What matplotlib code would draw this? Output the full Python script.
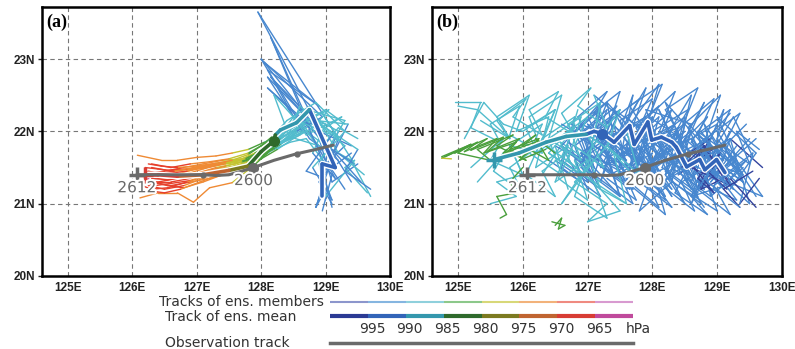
import matplotlib
matplotlib.use("Agg")
import matplotlib.pyplot as plt
import matplotlib.patheffects as pe
from matplotlib.collections import LineCollection
import numpy as np

# pressure classes (hPa), weakest -> strongest
LEVELS = [995, 990, 985, 980, 975, 970, 965]
MEMBER_COLORS = ["#34449e", "#4787cf", "#52bccd", "#4a9f3c",
                 "#c4c430", "#ef8a34", "#e6402c", "#d05cb4"]
MEAN_COLORS = ["#2b3a94", "#3264b8", "#3497ad", "#2f6a2c",
               "#7c7a20", "#c06430", "#d83c34", "#c04a9c"]
LEGEND_MEMBER_COLORS = ["#8c96cc", "#85b5e0", "#8fd0dc", "#8cc88a",
                        "#d8d878", "#f2b27a", "#ef8a80", "#d89ad0"]
OBS_COLOR = "#6a6a6a"

lon_ticks = [125, 126, 127, 128, 129, 130]
lat_ticks = [20, 21, 22, 23]

# observed track (same in both panels), east -> west
obs_lon = [129.12, 128.85, 128.55, 128.2, 127.88, 127.7, 127.5, 127.3, 127.1, 126.6, 126.07]
obs_lat = [21.81, 21.75, 21.69, 21.6, 21.5, 21.45, 21.4, 21.39, 21.4, 21.4, 21.4]
obs_small_dots = [2, 8]
obs_big_dot = 4
obs_end = 10

# (a) ensemble members: (lon, lat, pressure)
members_a = [
    [(129.3, 21.2, 992), (129.0, 21.6, 991), (129.2, 22.0, 989), (128.8, 22.2, 988), (128.5, 22.0, 987),
     (128.3, 21.9, 984), (128.1, 21.8, 982), (127.9, 21.7, 979), (127.7, 21.62, 976), (127.4, 21.6, 974),
     (127.1, 21.55, 971), (126.8, 21.5, 969), (126.5, 21.45, 967), (126.25, 21.42, 966)],
    [(129.5, 21.55, 991), (129.1, 21.3, 990), (128.9, 21.9, 989), (128.6, 22.3, 988), (128.4, 22.0, 987),
     (128.2, 21.85, 983), (128.0, 21.75, 981), (127.8, 21.6, 978), (127.6, 21.55, 975), (127.3, 21.5, 973),
     (127.0, 21.42, 970), (126.7, 21.38, 968), (126.4, 21.35, 967), (126.2, 21.38, 966)],
    [(129.0, 21.4, 992), (129.2, 21.9, 991), (127.95, 23.65, 991), (128.8, 22.2, 989), (128.5, 21.95, 987),
     (128.25, 21.8, 984), (128.0, 21.7, 981), (127.8, 21.55, 978), (127.5, 21.5, 974), (127.2, 21.45, 972),
     (126.9, 21.35, 969), (126.6, 21.3, 968), (126.35, 21.3, 967), (126.2, 21.35, 966)],
    [(129.4, 21.8, 992), (128.9, 22.0, 991), (128.05, 22.95, 991), (128.9, 22.35, 990), (128.1, 22.85, 990),
     (128.6, 22.05, 988), (128.3, 21.85, 985), (128.05, 21.7, 981), (127.8, 21.5, 978), (127.5, 21.42, 974),
     (127.2, 21.35, 972), (126.9, 21.3, 969), (126.6, 21.25, 968), (126.3, 21.3, 966)],
    [(129.1, 20.95, 992), (128.95, 21.5, 991), (129.3, 21.8, 989), (128.7, 22.25, 991), (128.15, 22.75, 990),
     (128.8, 22.1, 988), (128.4, 21.9, 986), (128.15, 21.75, 983), (127.9, 21.6, 979), (127.6, 21.52, 975),
     (127.3, 21.48, 973), (127.0, 21.4, 970), (126.7, 21.35, 968), (126.4, 21.3, 967), (126.2, 21.32, 966)],
    [(129.7, 21.1, 989), (129.4, 21.6, 988), (129.0, 21.8, 988), (128.7, 22.0, 987), (128.4, 21.9, 986),
     (128.1, 21.7, 982), (127.85, 21.5, 979), (127.55, 21.29, 974), (127.2, 21.22, 972), (126.95, 21.02, 971),
     (126.7, 21.15, 971), (126.4, 21.15, 970), (126.12, 21.08, 969)],
    [(129.3, 22.1, 989), (129.0, 22.3, 988), (128.6, 22.1, 987), (128.3, 21.95, 985), (128.05, 21.85, 982),
     (127.8, 21.75, 979), (127.55, 21.7, 974), (127.3, 21.66, 973), (127.0, 21.64, 972), (126.7, 21.6, 971),
     (126.45, 21.6, 971), (126.08, 21.67, 970)],
    [(129.0, 21.2, 991), (128.85, 20.95, 990), (129.05, 21.5, 989), (128.7, 21.9, 988), (128.45, 21.85, 987),
     (128.2, 21.75, 983), (127.95, 21.65, 980), (127.7, 21.55, 976), (127.4, 21.45, 973), (127.1, 21.35, 971),
     (126.8, 21.25, 969), (126.5, 21.2, 967), (126.25, 21.25, 966)],
    [(129.6, 21.4, 989), (129.2, 21.7, 988), (128.75, 22.35, 988), (128.6, 21.95, 987), (128.35, 21.85, 985),
     (128.1, 21.7, 982), (127.85, 21.62, 979), (127.55, 21.58, 975), (127.25, 21.52, 972), (126.95, 21.48, 970),
     (126.65, 21.45, 968), (126.4, 21.48, 967), (126.2, 21.5, 966)],
    [(129.1, 21.0, 992), (128.9, 21.3, 991), (129.35, 22.1, 989), (128.85, 22.15, 988), (128.55, 22.05, 987),
     (128.3, 21.9, 984), (128.1, 21.8, 982), (127.9, 21.68, 979), (127.65, 21.6, 975), (127.35, 21.55, 973),
     (127.05, 21.5, 971), (126.75, 21.42, 969), (126.5, 21.4, 967), (126.25, 21.45, 966)],
    [(129.2, 21.6, 992), (128.75, 21.9, 991), (128.0, 23.0, 991), (128.95, 22.2, 990), (128.55, 22.0, 987),
     (128.3, 21.82, 984), (128.05, 21.68, 981), (127.8, 21.58, 978), (127.5, 21.5, 974), (127.2, 21.42, 972),
     (126.9, 21.32, 969), (126.6, 21.28, 968), (126.35, 21.25, 967), (126.2, 21.3, 966)],
    [(128.95, 20.9, 991), (129.1, 21.4, 990), (128.8, 21.7, 989), (129.0, 22.1, 988), (128.6, 22.2, 987),
     (128.35, 22.0, 986), (128.15, 21.82, 983), (127.95, 21.7, 980), (127.7, 21.6, 976), (127.4, 21.55, 974),
     (127.1, 21.48, 971), (126.8, 21.4, 969), (126.5, 21.38, 967), (126.3, 21.42, 966)],
    [(129.4, 21.3, 992), (129.05, 21.8, 991), (128.1, 22.6, 991), (128.8, 22.05, 989), (128.5, 21.9, 987),
     (128.25, 21.75, 984), (128.0, 21.62, 981), (127.75, 21.52, 978), (127.45, 21.45, 974), (127.15, 21.38, 972),
     (126.85, 21.3, 969), (126.55, 21.22, 968), (126.3, 21.2, 967), (126.15, 21.25, 966)],
    [(129.5, 21.9, 989), (129.2, 22.05, 988), (128.9, 21.75, 988), (128.65, 22.1, 987), (128.4, 21.92, 986),
     (128.2, 21.78, 983), (127.95, 21.6, 979), (127.7, 21.5, 976), (127.4, 21.4, 973), (127.1, 21.3, 971),
     (126.8, 21.22, 968), (126.55, 21.25, 966), (126.3, 21.3, 964), (126.2, 21.4, 963)],
    [(129.0, 21.5, 992), (128.15, 23.3, 991), (128.7, 22.2, 990), (128.1, 22.75, 990), (128.65, 22.0, 988),
     (128.4, 21.88, 986), (128.2, 21.78, 983), (127.95, 21.65, 980), (127.7, 21.58, 976), (127.45, 21.55, 974),
     (127.15, 21.5, 972), (126.85, 21.45, 969), (126.55, 21.42, 968), (126.3, 21.4, 966)],
    [(129.65, 21.15, 989), (129.3, 21.5, 988), (129.45, 21.6, 988), (129.0, 21.1, 988), (128.9, 21.55, 987),
     (129.3, 22.15, 987), (128.7, 22.3, 987), (128.4, 22.05, 986), (128.2, 21.9, 984), (128.0, 21.8, 981),
     (127.8, 21.7, 978), (127.5, 21.62, 974), (127.2, 21.58, 972), (126.9, 21.55, 969), (126.6, 21.5, 968),
     (126.3, 21.55, 966)],
    [(129.55, 21.3, 991), (129.1, 21.75, 990), (129.45, 21.55, 989), (128.95, 22.25, 989), (129.2, 21.9, 988),
     (128.6, 22.35, 987), (128.45, 22.0, 986), (128.25, 21.85, 984), (128.05, 21.75, 982), (127.85, 21.65, 979),
     (127.6, 21.6, 975), (127.3, 21.56, 973), (127.0, 21.52, 970), (126.7, 21.5, 968), (126.45, 21.52, 967),
     (126.25, 21.55, 966)],
    [(128.85, 20.95, 992), (129.0, 21.35, 991), (128.7, 21.45, 990), (129.1, 21.95, 989), (128.55, 22.15, 988),
     (128.9, 21.8, 987), (128.35, 21.95, 986), (128.15, 21.8, 983), (127.95, 21.68, 980), (127.7, 21.58, 976),
     (127.45, 21.52, 974), (127.15, 21.45, 972), (126.85, 21.38, 969), (126.55, 21.33, 967), (126.3, 21.35, 966)],
    [(129.7, 21.2, 991), (129.3, 21.45, 990), (129.5, 21.75, 989), (129.0, 22.05, 988), (129.25, 22.2, 988),
     (128.7, 21.95, 987), (128.5, 22.2, 986), (128.3, 21.95, 985), (128.1, 21.75, 982), (127.9, 21.6, 979),
     (127.65, 21.5, 975), (127.35, 21.4, 973), (127.05, 21.3, 971), (126.75, 21.2, 969), (126.5, 21.15, 968),
     (126.25, 21.18, 967)],
    [(129.0, 21.05, 992), (128.9, 21.6, 991), (129.15, 21.35, 990), (128.75, 22.0, 989), (129.05, 22.3, 988),
     (128.6, 22.1, 987), (128.2, 22.5, 986), (128.45, 21.9, 985), (128.2, 21.82, 983), (128.0, 21.72, 980),
     (127.75, 21.62, 977), (127.45, 21.57, 974), (127.15, 21.52, 971), (126.85, 21.48, 969), (126.55, 21.46, 967),
     (126.3, 21.5, 966)],
    [(129.4, 21.7, 991), (128.95, 21.4, 990), (129.1, 21.05, 990), (128.8, 21.5, 989), (129.3, 22.0, 988),
     (128.85, 22.4, 987), (128.4, 22.15, 986), (128.2, 21.95, 984), (128.0, 21.8, 981), (127.8, 21.68, 978),
     (127.55, 21.6, 974), (127.25, 21.55, 972), (126.95, 21.5, 970), (126.65, 21.45, 968), (126.4, 21.42, 966),
     (126.2, 21.45, 964)],
]

# (a) ensemble mean
mean_a = [(128.95, 21.1, 993), (128.95, 21.55, 992), (129.15, 21.5, 992), (129.0, 21.8, 991),
          (128.75, 22.3, 989), (128.55, 22.12, 988), (128.3, 22.02, 986), (128.22, 21.95, 984),
          (128.2, 21.87, 983), (128.0, 21.72, 981), (127.8, 21.52, 978), (127.5, 21.46, 974),
          (127.1, 21.4, 972), (126.7, 21.38, 969), (126.4, 21.4, 967), (126.2, 21.4, 966)]
mean_a_dot = 8

# (b) ensemble members
members_b = [
    list(zip([129.6, 129.1, 129.4, 128.8, 129.0, 128.5, 128.7, 128.1, 128.4, 127.8, 128.0, 127.5, 127.7, 127.2, 127.4, 126.9, 127.1, 126.6],
             [21.1, 21.8, 21.3, 22.1, 21.5, 21.9, 21.2, 22.3, 21.7, 21.4, 22.2, 21.6, 22.5, 21.3, 21.9, 22.1, 21.5, 21.8],
             [994, 994, 994, 993, 993, 993, 993, 992, 992, 992, 992, 991, 991, 991, 991, 990, 990, 989])),
    list(zip([129.3, 129.7, 128.9, 129.2, 128.6, 128.9, 128.2, 128.6, 127.9, 128.1, 127.6, 127.9, 127.3, 127.5, 127.0, 127.2, 126.7, 126.9, 126.4],
             [21.6, 21.1, 21.4, 22.0, 21.0, 21.7, 22.4, 21.5, 21.9, 21.2, 21.8, 22.6, 21.7, 21.1, 21.6, 22.3, 21.9, 21.4, 21.7],
             [994, 994, 994, 994, 993, 993, 993, 993, 992, 992, 992, 992, 991, 991, 991, 990, 990, 989, 988])),
    list(zip([129.2, 128.8, 129.1, 128.7, 129.0, 128.4, 128.6, 128.0, 128.3, 127.7, 128.0, 127.4, 127.6, 127.1, 127.3, 126.8],
             [21.3, 21.7, 21.5, 21.2, 21.8, 21.4, 22.0, 21.6, 21.1, 21.9, 21.4, 22.1, 21.5, 21.8, 22.3, 21.9],
             [997, 997, 996, 996, 995, 994, 994, 993, 993, 992, 992, 991, 991, 991, 990, 990])),
    list(zip([129.5, 129.0, 129.3, 128.7, 128.9, 128.3, 128.5, 127.9, 128.2, 127.6, 127.8, 127.3, 127.5, 126.9, 127.2, 126.6, 126.8, 126.3],
             [21.9, 21.4, 21.6, 22.0, 21.1, 21.5, 22.2, 21.8, 20.85, 21.3, 21.9, 22.4, 21.5, 21.7, 21.2, 21.6, 22.1, 21.4],
             [994, 994, 994, 993, 993, 993, 993, 992, 992, 992, 992, 991, 991, 991, 990, 990, 989, 989])),
    list(zip([129.0, 129.4, 128.8, 129.1, 128.5, 128.8, 128.2, 128.4, 127.8, 128.1, 127.5, 127.7, 127.1, 127.4, 126.8, 127.0, 126.5],
             [22.0, 21.4, 21.6, 21.2, 21.8, 22.4, 21.4, 22.0, 21.7, 22.65, 21.9, 21.2, 21.6, 22.2, 21.8, 21.3, 21.6],
             [994, 994, 993, 993, 993, 993, 992, 992, 992, 992, 991, 991, 991, 991, 990, 990, 989])),
    list(zip([129.7, 129.2, 129.5, 128.9, 129.1, 128.6, 128.8, 128.2, 128.5, 127.9, 128.1, 127.6, 127.8, 127.2, 127.4, 126.9, 127.1, 126.5, 126.7],
             [21.5, 21.9, 21.0, 21.5, 22.3, 21.3, 21.9, 21.4, 21.0, 22.0, 21.6, 21.3, 22.1, 21.9, 21.4, 22.0, 21.5, 21.8, 21.2],
             [995, 994, 994, 994, 993, 993, 993, 993, 992, 992, 992, 992, 991, 991, 991, 990, 990, 989, 989])),
    list(zip([129.2, 129.6, 129.0, 129.3, 128.7, 128.9, 128.4, 128.6, 128.0, 128.3, 127.7, 127.9, 127.3, 127.6, 127.0, 127.3, 126.8, 127.0, 126.5],
             [21.2, 21.7, 22.2, 21.6, 21.3, 21.9, 21.7, 22.5, 21.6, 21.2, 21.7, 22.2, 21.9, 21.4, 21.7, 22.4, 22.0, 21.6, 21.9],
             [994, 994, 994, 993, 993, 993, 993, 992, 992, 992, 992, 991, 991, 991, 991, 990, 990, 989, 989])),
    list(zip([128.9, 129.3, 128.6, 128.9, 128.3, 128.6, 127.9, 128.2, 127.6, 127.9, 127.2, 127.5, 126.9, 127.2, 126.6, 126.8, 126.3],
             [21.6, 21.3, 21.1, 21.8, 21.4, 22.1, 22.3, 21.6, 21.2, 21.8, 21.5, 22.0, 21.6, 21.1, 21.5, 22.2, 21.9],
             [994, 994, 993, 993, 993, 993, 992, 992, 992, 992, 991, 991, 991, 990, 990, 989, 989])),
    list(zip([129.4, 128.9, 129.2, 128.6, 128.8, 128.2, 128.5, 127.9, 128.1, 127.6, 127.8, 127.2, 127.5, 126.9, 127.1, 126.6],
             [21.5, 21.1, 21.9, 21.6, 21.2, 21.8, 22.0, 21.5, 22.2, 21.8, 21.3, 21.7, 22.3, 21.9, 21.4, 21.8],
             [994, 994, 993, 993, 993, 993, 992, 992, 992, 992, 991, 991, 991, 990, 990, 989])),
    list(zip([129.6, 129.1, 129.4, 128.8, 129.0, 128.4, 128.7, 128.1, 128.3, 127.8, 128.0, 127.4, 127.7, 127.1, 127.3, 126.8, 127.0],
             [21.9, 21.5, 21.3, 21.7, 22.1, 21.8, 21.5, 21.9, 21.3, 20.9, 21.4, 21.6, 21.0, 21.4, 21.9, 21.6, 21.2],
             [994, 994, 994, 993, 993, 993, 993, 992, 992, 992, 992, 991, 991, 991, 990, 990, 990])),
    list(zip([129.1, 128.6, 129.0, 128.3, 128.5, 127.9, 128.2, 127.6, 127.8, 127.2, 127.5, 126.9, 127.2, 126.6, 126.9, 126.4],
             [21.4, 21.9, 20.9, 21.3, 22.1, 21.5, 21.7, 22.2, 21.4, 21.9, 21.1, 21.5, 22.4, 21.8, 21.3, 21.6],
             [994, 994, 993, 993, 993, 993, 992, 992, 992, 991, 991, 991, 991, 990, 990, 989])),
    list(zip([129.3, 128.9, 129.2, 128.7, 129.0, 128.4, 128.6, 128.1, 128.3, 127.7, 128.0, 127.3, 127.6, 127.0, 127.3, 126.7],
             [21.8, 21.3, 21.6, 21.95, 21.4, 21.6, 21.2, 21.9, 22.3, 21.8, 21.4, 21.9, 21.6, 22.1, 21.7, 22.0],
             [994, 994, 994, 993, 993, 993, 993, 992, 992, 992, 991, 991, 991, 990, 990, 989])),
    list(zip([129.0, 128.75, 129.1, 128.8, 129.2, 128.6, 128.9, 128.4],
             [21.6, 21.2, 21.35, 21.8, 21.25, 21.5, 21.9, 21.6],
             [997, 997, 996, 996, 996, 995, 995, 994])),
    list(zip([129.55, 129.25, 128.95, 129.35, 128.7, 128.95, 128.35, 128.65, 128.0, 128.35, 127.75, 128.05, 127.45, 127.8, 127.15, 127.4],
             [21.65, 22.2, 21.75, 21.45, 21.95, 22.45, 22.0, 21.35, 21.75, 22.55, 22.05, 21.45, 21.85, 22.45, 22.0, 21.55],
             [994, 994, 994, 993, 993, 993, 993, 992, 992, 992, 992, 991, 991, 991, 990, 990])),
    list(zip([129.45, 129.0, 129.25, 128.75, 128.95, 128.45, 128.7, 128.15, 128.4, 127.85, 128.1, 127.55, 127.8, 127.3, 127.5, 127.0, 127.25, 126.75],
             [22.1, 21.7, 21.2, 21.6, 22.0, 21.55, 21.15, 21.5, 22.05, 21.85, 22.35, 21.95, 21.55, 22.0, 22.55, 22.2, 21.8, 22.1],
             [994, 994, 993, 993, 993, 993, 992, 992, 992, 992, 991, 991, 991, 991, 990, 990, 990, 989])),
    list(zip([129.65, 129.35, 129.55, 129.05, 129.3, 128.8, 129.0, 128.5, 128.75, 128.25, 128.45, 127.95, 128.2, 127.7, 127.95, 127.45, 127.65],
             [21.35, 21.0, 21.7, 21.35, 21.05, 21.25, 21.75, 21.45, 21.0, 21.35, 21.85, 21.55, 21.1, 21.5, 21.95, 21.65, 21.25],
             [995, 994, 994, 994, 994, 993, 993, 993, 993, 992, 992, 992, 992, 991, 991, 991, 990])),
    list(zip([129.2, 128.8, 129.05, 128.55, 128.8, 128.3, 128.55, 128.0, 128.25, 127.75, 128.0, 127.5, 127.75, 127.2, 127.45, 126.95, 127.15, 126.7, 126.85],
             [22.25, 21.85, 22.5, 22.05, 21.6, 21.9, 22.3, 22.0, 21.55, 21.95, 22.45, 22.15, 21.7, 21.95, 22.35, 22.0, 21.6, 21.85, 22.3],
             [994, 994, 994, 993, 993, 993, 993, 992, 992, 992, 992, 991, 991, 991, 991, 990, 990, 989, 989])),
    list(zip([129.55, 129.1, 129.35, 128.85, 129.1, 128.6, 128.85, 128.35, 128.55, 128.05, 128.3, 127.8, 128.0, 127.55, 127.75, 127.3],
             [21.45, 21.2, 20.95, 21.3, 21.65, 21.1, 20.85, 21.15, 21.5, 21.25, 20.95, 21.3, 21.7, 21.45, 21.05, 21.35],
             [995, 995, 994, 994, 994, 994, 993, 993, 993, 993, 992, 992, 992, 991, 991, 991])),
    list(zip([129.15, 128.85, 129.05, 128.7, 128.95, 128.6, 128.8, 128.45],
             [21.2, 21.45, 21.7, 21.35, 21.15, 21.55, 21.8, 21.5],
             [998, 998, 997, 997, 996, 996, 995, 995])),
    list(zip([129.65, 129.3, 129.5, 129.1, 129.35, 128.9, 129.1, 128.6, 128.85, 128.35, 128.6, 128.1, 128.35, 127.85, 128.1, 127.6, 127.85, 127.35, 127.6, 127.1],
             [21.75, 22.0, 21.55, 21.8, 22.25, 21.95, 21.6, 21.85, 22.2, 21.75, 21.4, 21.7, 22.1, 21.85, 21.45, 21.7, 22.0, 21.65, 21.3, 21.6],
             [994, 994, 994, 994, 993, 993, 993, 993, 993, 992, 992, 992, 992, 992, 991, 991, 991, 991, 990, 990])),
    list(zip([128.8, 128.5, 128.7, 128.2, 128.45, 127.95, 128.2, 127.7, 127.9, 127.4, 127.65, 127.15, 127.35, 126.9, 127.1, 126.6, 126.8, 126.35],
             [20.95, 21.35, 21.1, 21.45, 21.85, 21.5, 21.05, 21.4, 21.9, 21.6, 21.2, 21.55, 22.0, 21.7, 21.3, 21.65, 22.05, 21.75],
             [993, 993, 993, 992, 992, 992, 992, 991, 991, 991, 991, 990, 990, 990, 989, 989, 989, 988])),
    list(zip([129.3, 129.0, 129.2, 128.75, 129.0, 128.5, 128.7, 128.2, 128.45, 127.95, 128.15, 127.65, 127.9, 127.4, 127.6, 127.1, 127.3, 126.85, 127.05, 126.6],
             [21.55, 21.9, 22.3, 22.0, 21.7, 22.15, 22.6, 22.3, 21.9, 22.2, 22.65, 22.35, 22.0, 22.3, 21.95, 22.25, 22.55, 22.2, 21.85, 22.1],
             [994, 994, 994, 994, 993, 993, 993, 993, 993, 992, 992, 992, 992, 991, 991, 991, 991, 990, 990, 989])),
    list(zip([129.6, 129.2, 129.45, 128.95, 129.2, 128.7, 128.95, 128.45, 128.65, 128.15, 128.4, 127.9, 128.1, 127.65, 127.85, 127.35],
             [20.95, 21.35, 21.6, 21.25, 20.85, 21.2, 21.55, 21.3, 20.9, 21.25, 21.6, 21.35, 20.95, 21.3, 21.65, 21.4],
             [995, 994, 994, 994, 994, 993, 993, 993, 993, 992, 992, 992, 992, 991, 991, 991])),
    # cyan and green members further west
    list(zip([128.0, 127.6, 127.8, 127.3, 127.5, 127.0, 127.2, 126.7, 126.9, 126.4, 126.6, 126.1, 126.3, 125.8, 126.0, 125.5, 125.7, 125.2],
             [21.6, 22.0, 21.4, 21.8, 22.3, 21.7, 21.2, 21.6, 22.2, 21.9, 21.4, 21.7, 22.1, 21.8, 21.4, 21.6, 21.9, 21.5],
             [990, 989, 989, 989, 989, 988, 988, 988, 988, 988, 987, 987, 987, 987, 986, 986, 986, 986])),
    list(zip([127.8, 127.4, 127.6, 127.1, 127.3, 126.8, 127.0, 126.5, 126.7, 126.2, 126.4, 125.9, 126.1, 125.6, 125.8, 125.3, 125.0],
             [21.3, 21.7, 21.0, 21.3, 20.8, 21.1, 21.6, 21.3, 21.8, 21.5, 22.2, 22.0, 22.5, 22.2, 21.9, 22.3, 22.35],
             [989, 989, 989, 989, 988, 988, 988, 988, 988, 987, 987, 987, 987, 987, 986, 986, 986])),
    list(zip([127.4, 127.0, 127.2, 126.7, 126.9, 126.4, 126.6, 126.1, 126.3, 125.8, 126.0, 125.6, 125.9, 125.5],
             [21.9, 21.5, 22.4, 22.1, 21.6, 21.9, 22.5, 22.2, 21.7, 21.8, 21.4, 21.3, 21.1, 21.0],
             [989, 989, 989, 988, 988, 988, 988, 987, 987, 987, 987, 986, 986, 986])),
    list(zip([127.6, 127.2, 127.5, 127.0, 127.3, 126.8, 127.1, 126.6, 126.9, 126.4, 126.7, 126.2, 126.5, 126.0, 125.7, 125.4, 125.1],
             [21.0, 21.2, 20.9, 20.75, 21.0, 21.3, 21.6, 21.0, 21.4, 21.7, 22.0, 21.7, 22.3, 22.0, 22.1, 22.4, 21.9],
             [989, 989, 989, 989, 988, 988, 988, 988, 988, 987, 987, 987, 987, 987, 986, 986, 986])),
    list(zip([127.5, 127.1, 127.3, 126.85, 127.05, 126.6, 126.8, 126.35, 126.55, 126.1, 126.3, 125.85, 126.05, 125.6, 125.8, 125.35],
             [22.2, 22.5, 22.05, 22.35, 22.6, 22.25, 21.95, 22.2, 22.55, 22.3, 21.95, 22.2, 22.45, 22.15, 21.9, 22.15],
             [990, 989, 989, 989, 989, 988, 988, 988, 988, 988, 987, 987, 987, 987, 986, 986])),
    list(zip([127.2, 126.8, 127.0, 126.55, 126.75, 126.3, 126.5, 126.05, 126.25, 125.8, 126.0, 125.55, 125.75, 125.3],
             [21.3, 21.6, 21.05, 21.35, 21.75, 21.45, 21.1, 21.4, 21.8, 21.5, 21.15, 21.45, 21.75, 21.3],
             [989, 989, 989, 988, 988, 988, 988, 987, 987, 987, 987, 986, 986, 986])),
    list(zip([127.4, 127.0, 127.25, 126.8, 127.0, 126.55, 126.75, 126.3, 126.5, 126.05, 126.2, 125.8, 125.95, 125.5, 125.65, 125.2, 125.35, 124.95],
             [21.7, 21.95, 21.5, 21.8, 22.2, 21.9, 21.55, 21.85, 22.3, 22.05, 21.75, 21.95, 22.35, 22.1, 21.85, 22.05, 22.4, 22.4],
             [989, 989, 989, 989, 988, 988, 988, 988, 988, 987, 987, 987, 987, 987, 986, 986, 986, 986])),
    list(zip([126.5, 126.2, 126.4, 126.0, 126.2, 125.7, 125.9, 125.4, 125.6, 125.1, 125.3, 124.75, 124.9],
             [21.7, 21.9, 21.6, 21.8, 21.95, 21.65, 21.85, 21.7, 21.9, 21.72, 21.85, 21.63, 21.62],
             [984, 984, 984, 984, 983, 983, 983, 982, 982, 982, 981, 979, 979])),
    list(zip([126.3, 126.0, 126.25, 125.8, 126.05, 125.6, 125.85, 125.3, 125.5, 125.0, 125.2, 124.8],
             [21.85, 21.65, 21.9, 21.75, 21.6, 21.8, 21.95, 21.75, 21.6, 21.7, 21.82, 21.65],
             [984, 984, 984, 984, 983, 983, 983, 982, 982, 981, 981, 981])),
    list(zip([126.35, 125.95, 126.2, 125.7, 125.95, 125.45, 125.7, 125.2, 125.45, 124.95, 125.2, 124.75],
             [21.75, 21.6, 21.85, 21.7, 21.9, 21.72, 21.92, 21.74, 21.9, 21.7, 21.82, 21.65],
             [984, 984, 984, 983, 983, 983, 983, 982, 982, 982, 981, 981])),
    list(zip([126.0, 125.8, 125.9, 125.6, 125.75, 125.65],
             [21.5, 21.3, 21.15, 21.1, 20.85, 20.8],
             [984, 984, 983, 983, 982, 982])),
    list(zip([126.45, 126.65, 126.55, 126.6, 126.5],
             [20.75, 20.7, 20.65, 20.8, 20.7],
             [983, 983, 983, 983, 983])),
]

# (b) ensemble mean
mean_b = [(129.12, 21.43, 994), (128.99, 21.61, 994), (128.81, 21.47, 994), (128.73, 21.61, 993),
          (128.53, 21.51, 993), (128.37, 21.78, 993), (128.3, 21.85, 992), (128.14, 21.92, 992),
          (127.99, 21.88, 992), (127.93, 22.13, 992), (127.72, 21.82, 991), (127.65, 22.08, 991),
          (127.41, 21.85, 991), (127.23, 21.97, 991), (127.1, 22.0, 990), (126.98, 21.96, 989),
          (126.67, 21.93, 989), (126.36, 21.85, 988), (125.94, 21.7, 988), (125.56, 21.61, 987)]
mean_b_dot = 13


def color_index(p):
    for i, lev in enumerate(LEVELS):
        if p >= lev:
            return i
    return len(LEVELS)


def draw_track(ax, track, colors, lw, z):
    pts = np.array(track, dtype=float)
    segs = [pts[i:i + 2, :2] for i in range(len(pts) - 1)]
    cols = [colors[color_index(p)] for p in pts[:-1, 2]]
    lc = LineCollection(segs, colors=cols, linewidths=lw, zorder=z,
                        capstyle="round", joinstyle="round")
    ax.add_collection(lc)
    return pts


def setup_axes(ax, label):
    ax.set_xlim(124.6, 130)
    ax.set_ylim(20, 23.72)
    ax.set_xticks(lon_ticks)
    ax.set_xticklabels([f"{v}E" for v in lon_ticks])
    ax.set_yticks(lat_ticks)
    ax.set_yticklabels([f"{v}N" for v in lat_ticks])
    for lbl in ax.get_xticklabels() + ax.get_yticklabels():
        lbl.set_fontweight("bold")
        lbl.set_fontsize(8.5)
        lbl.set_family("Liberation Sans")
    ax.tick_params(axis="y", length=3, width=1, pad=2, colors="#222222")
    ax.tick_params(axis="x", length=0, pad=4, colors="#222222")
    ax.grid(True, color="#777777", linestyle=(0, (4, 3)), linewidth=0.8)
    ax.set_axisbelow(True)
    for sp in ax.spines.values():
        sp.set_linewidth(1.8)
    ax.text(0.012, 0.975, label, transform=ax.transAxes, ha="left", va="top",
            fontsize=13, fontweight="bold", family="Liberation Serif", zorder=10)


def draw_obs(ax):
    halo = [pe.withStroke(linewidth=3, foreground="white")]
    ax.plot(obs_lon, obs_lat, color=OBS_COLOR, lw=2.2, zorder=6, solid_capstyle="round")
    ax.plot([obs_lon[i] for i in obs_small_dots], [obs_lat[i] for i in obs_small_dots],
            "o", color=OBS_COLOR, ms=3.5, zorder=7)
    ax.plot(obs_lon[obs_big_dot], obs_lat[obs_big_dot], "o", color=OBS_COLOR, ms=7, zorder=7)
    ax.plot(obs_lon[obs_end], obs_lat[obs_end], "+", color=OBS_COLOR, ms=11, mew=2.5, zorder=7)
    ax.text(obs_lon[obs_big_dot], obs_lat[obs_big_dot] - 0.18, "2600", color=OBS_COLOR,
            fontsize=11, ha="center", va="center", zorder=8, path_effects=halo)
    ax.text(obs_lon[obs_end], obs_lat[obs_end] - 0.18, "2612", color=OBS_COLOR,
            fontsize=11, ha="center", va="center", zorder=8, path_effects=halo)


def draw_mean(ax, track, dot_idx):
    pts = np.array(track, dtype=float)
    ax.plot(pts[:, 0], pts[:, 1], color="white", lw=4.6, zorder=4,
            solid_joinstyle="round", solid_capstyle="round")
    draw_track(ax, track, MEAN_COLORS, 2.6, 5)
    c_dot = MEAN_COLORS[color_index(pts[dot_idx, 2])]
    c_end = MEAN_COLORS[color_index(pts[-2, 2])]
    ax.plot(pts[dot_idx, 0], pts[dot_idx, 1], "o", color=c_dot, ms=7, zorder=6)
    ax.plot(pts[-1, 0], pts[-1, 1], "+", color=c_end, ms=11, mew=2.5, zorder=6)


fig = plt.figure(figsize=(7.95, 3.49), dpi=100)
ax_a = fig.add_axes([42 / 795, 73 / 349, 348 / 795, 269 / 349])
ax_b = fig.add_axes([432 / 795, 73 / 349, 350 / 795, 269 / 349])

setup_axes(ax_a, "(a)")
setup_axes(ax_b, "(b)")

for trk in members_a:
    draw_track(ax_a, trk, MEMBER_COLORS, 1.0, 2)
draw_mean(ax_a, mean_a, mean_a_dot)
draw_obs(ax_a)

for trk in members_b:
    draw_track(ax_b, trk, MEMBER_COLORS, 1.0, 2)
draw_mean(ax_b, mean_b, mean_b_dot)
draw_obs(ax_b)

# legend strip below the maps (pixel coordinates)
leg = fig.add_axes([0, 0, 1, 1])
leg.set_xlim(0, 795)
leg.set_ylim(349, 0)
leg.axis("off")
x0, x1 = 330, 633
edges = np.linspace(x0, x1, len(MEMBER_COLORS) + 1)
txt_kw = dict(fontsize=10, color="#333333", va="center")
leg.text(324, 302, "Tracks of ens. members", ha="right", **txt_kw)
leg.text(165, 317, "Track of ens. mean", ha="left", **txt_kw)
leg.text(165, 343, "Observation track", ha="left", **txt_kw)
leg.add_collection(LineCollection([[(edges[i], 302), (edges[i + 1], 302)] for i in range(len(edges) - 1)],
                                  colors=LEGEND_MEMBER_COLORS, linewidths=1.5))
leg.add_collection(LineCollection([[(edges[i], 316), (edges[i + 1], 316)] for i in range(len(edges) - 1)],
                                  colors=MEAN_COLORS, linewidths=3))
for lev, xe in zip(LEVELS, edges[1:-1]):
    leg.text(xe + 4, 329, str(lev), ha="center", **txt_kw)
leg.text(638, 329, "hPa", ha="center", **txt_kw)
leg.plot([x0, x1], [343, 343], color=OBS_COLOR, lw=2.5)

fig.savefig("out.png", dpi=100)
